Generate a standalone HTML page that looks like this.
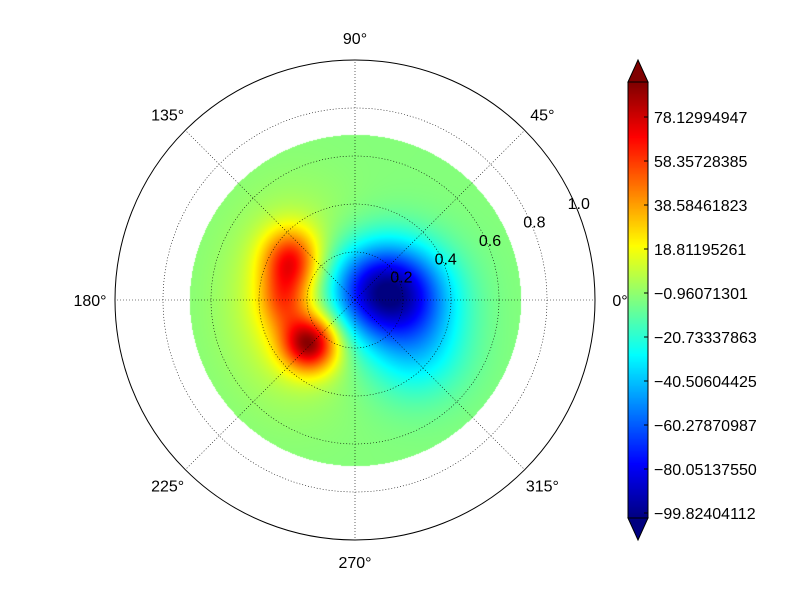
<!DOCTYPE html>
<html><head><meta charset="utf-8"><style>
body{margin:0;background:#fff;}
#wrap{position:relative;width:800px;height:600px;font-family:"Liberation Sans",sans-serif;}
canvas,svg{position:absolute;left:0;top:0;}
</style></head><body>
<div id="wrap">
<canvas id="field" width="800" height="600"></canvas>
<svg id="ov" width="800" height="600"></svg>
</div>
<script>
// blob data (x, y in radial units; amplitude in field units; widths)
const blobX = [0.12, 0.25, -0.27, -0.19, -0.30, -0.25];
const blobY = [0.04, -0.20, 0.17, -0.18, 0.00, 0.00];
const blobAmp = [-100, -30, 55, 82, 35, 25];
const blobSx = [0.17, 0.15, 0.08, 0.08, 0.07, 0.18];
const blobSy = [0.14, 0.15, 0.09, 0.08, 0.09, 0.25];
const dataRadius = [0.69];
const cbTicks = [78.12994947,58.35728385,38.58461823,18.81195261,-0.96071301,-20.73337863,-40.50604425,-60.27870987,-80.05137550,-99.82404112];
const cbMin = [-99.82404112], cbMax = [97.90261509];
const angleLabels = [0,45,90,135,180,225,270,315];
const radialTicks = [0.2,0.4,0.6,0.8,1.0];

const CX=355, CY=300, R=240;
function jet(t){t=Math.max(0,Math.min(1,t));
 const f=x=>Math.max(0,Math.min(1,x));
 return [f(1.5-Math.abs(4*t-3)),f(1.5-Math.abs(4*t-2)),f(1.5-Math.abs(4*t-1))].map(v=>Math.round(v*255));}
function val(x,y){let s=0;for(let i=0;i<blobX.length;i++){const dx=(x-blobX[i])/blobSx[i],dy=(y-blobY[i])/blobSy[i];s+=blobAmp[i]*Math.exp(-0.5*(dx*dx+dy*dy));}return s;}
const cv=document.getElementById('field'),ctx=cv.getContext('2d');
const img=ctx.createImageData(800,600);
for(let py=0;py<600;py++)for(let px=0;px<800;px++){
 const x=(px-CX)/R,y=(CY-py)/R;if(Math.hypot(x,y)>dataRadius[0])continue;
 const c=jet((val(x,y)-cbMin[0])/(cbMax[0]-cbMin[0]));const k=(py*800+px)*4;
 img.data[k]=c[0];img.data[k+1]=c[1];img.data[k+2]=c[2];img.data[k+3]=255;}
ctx.putImageData(img,0,0);
// colorbar
const cbX=628,cbW=20,cbT=82,cbB=518;
const tickY0=513, tickStep=(cbTicks[0]-cbTicks[1]), tickPx=44;
function cbY(v){return tickY0-(v-cbMin[0])/tickStep*tickPx;}
for(let py=cbT;py<cbB;py++){const c=jet((cbB-py)/(cbB-cbT));ctx.fillStyle=`rgb(${c})`;ctx.fillRect(cbX,py,cbW,1);}
const NS='http://www.w3.org/2000/svg',ov=document.getElementById('ov');
function add(tag,attrs,name,txt){const e=document.createElementNS(NS,tag);for(const k in attrs)e.setAttribute(k,attrs[k]);
 
 
 if(txt!==undefined)e.textContent=txt;ov.appendChild(e);return e;}
add('polygon',{points:`${cbX},${cbT} ${cbX+cbW/2},60 ${cbX+cbW},${cbT}`,fill:'rgb(128,0,0)',stroke:'#000'},'colorbar-extend-top');
add('polygon',{points:`${cbX},${cbB} ${cbX+cbW/2},540 ${cbX+cbW},${cbB}`,fill:'rgb(0,0,128)',stroke:'#000'},'colorbar-extend-bottom');
add('rect',{x:cbX,y:cbT,width:cbW,height:cbB-cbT,fill:'none',stroke:'#000'},'colorbar-frame');
cbTicks.forEach(v=>{const y=cbY(v);
 add('line',{x1:cbX+cbW-4,x2:cbX+cbW,y1:y,y2:y,stroke:'#000'},'colorbar-tick');
 add('text',{x:654,y:y+6,'font-size':16,fill:'#000'},'colorbar-tick-label',v<0?'\u2212'+(-v).toFixed(8):v.toFixed(8));});
// grid
radialTicks.forEach(r=>{
 add('circle',{cx:CX,cy:CY,r:r*R,fill:'none',stroke:'#000','stroke-width':r==1?1:0.6,'stroke-dasharray':r==1?'none':'1,2'},r==1?'polar-frame':'radial-gridline');
 const a=22.5*Math.PI/180;
 add('text',{x:CX+r*R*Math.cos(a)+2,y:CY-r*R*Math.sin(a)+1,'font-size':16,'text-anchor':'middle',fill:'#000'},'radial-tick-label',r.toFixed(1));});
angleLabels.forEach(d=>{const a=d*Math.PI/180;
 add('line',{x1:CX,y1:CY,x2:CX+R*Math.cos(a),y2:CY-R*Math.sin(a),stroke:'#000','stroke-width':0.6,'stroke-dasharray':'1,2'},'angular-gridline');
 add('text',{x:CX+265*Math.cos(a),y:CY-262*Math.sin(a)+6,'font-size':16,'text-anchor':'middle',fill:'#000'},'angle-label',d+'\u00b0');});
</script>
</body></html>
